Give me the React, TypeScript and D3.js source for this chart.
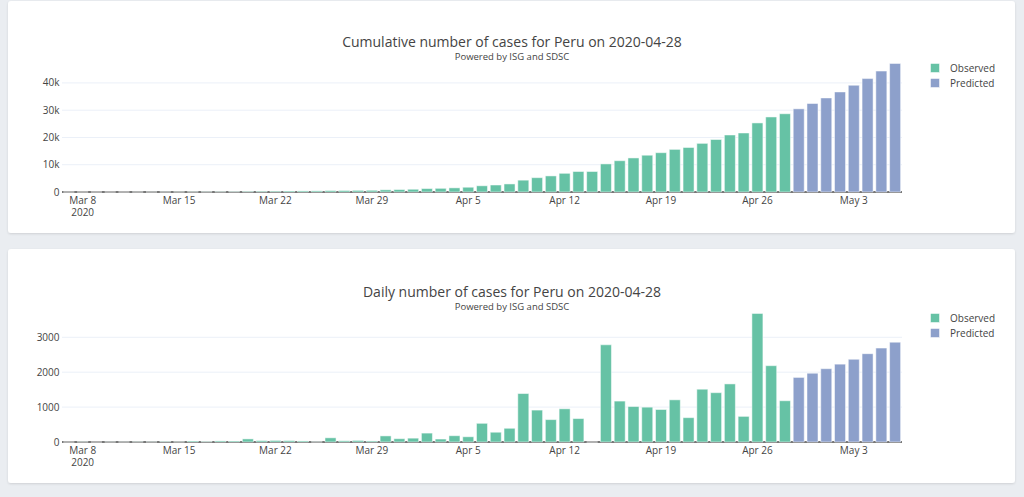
import React from 'react';
import * as d3 from 'd3';

// dates shown on the x axis (one bar per day)
const observedDates = [
  '2020-03-07', '2020-03-08', '2020-03-09', '2020-03-10', '2020-03-11', '2020-03-12', '2020-03-13',
  '2020-03-14', '2020-03-15', '2020-03-16', '2020-03-17', '2020-03-18', '2020-03-19', '2020-03-20',
  '2020-03-21', '2020-03-22', '2020-03-23', '2020-03-24', '2020-03-25', '2020-03-26', '2020-03-27',
  '2020-03-28', '2020-03-29', '2020-03-30', '2020-03-31', '2020-04-01', '2020-04-02', '2020-04-03',
  '2020-04-04', '2020-04-05', '2020-04-06', '2020-04-07', '2020-04-08', '2020-04-09', '2020-04-10',
  '2020-04-11', '2020-04-12', '2020-04-13', '2020-04-14', '2020-04-15', '2020-04-16', '2020-04-17',
  '2020-04-18', '2020-04-19', '2020-04-20', '2020-04-21', '2020-04-22', '2020-04-23', '2020-04-24',
  '2020-04-25', '2020-04-26', '2020-04-27', '2020-04-28',
];
const predictedDates = [
  '2020-04-29', '2020-04-30', '2020-05-01', '2020-05-02', '2020-05-03', '2020-05-04', '2020-05-05', '2020-05-06',
];

const observedCumulative = [
  1, 6, 6, 9, 11, 17, 22, 38, 43, 71, 86, 117, 145, 234,
  274, 318, 363, 395, 416, 521, 556, 601, 631, 806, 896, 1006, 1261, 1346,
  1521, 1746, 2281, 2561, 2954, 4342, 5256, 5897, 6848, 7519, 7519, 10303, 11475, 12491,
  13489, 14420, 15628, 16325, 17837, 19250, 20914, 21648, 25331, 27517, 28699,
];
const predictedCumulative = [30500, 32450, 34500, 36700, 39150, 41600, 44350, 47150];

const observedDaily = [
  0, 5, 0, 3, 2, 6, 5, 16, 5, 28, 15, 31, 28, 89,
  40, 45, 40, 30, 5, 120, 35, 45, 30, 175, 95, 110, 255, 85,
  180, 150, 535, 280, 393, 1388, 914, 641, 951, 671, 0, 2784, 1172, 1016,
  998, 931, 1208, 697, 1512, 1413, 1664, 734, 3683, 2186, 1182,
];
const predictedDaily = [1850, 1970, 2100, 2230, 2370, 2530, 2690, 2860];

const xTickDates = [
  '2020-03-08', '2020-03-15', '2020-03-22', '2020-03-29', '2020-04-05',
  '2020-04-12', '2020-04-19', '2020-04-26', '2020-05-03',
];
const cumulativeTicks = [0, 10000, 20000, 30000, 40000];
const dailyTicks = [0, 1000, 2000, 3000];

const seriesNames = ['Observed', 'Predicted'];
const seriesColors = ['#66c2a5', '#8da0cb'];

const FONT = '"Open Sans", verdana, arial, sans-serif';
const TEXT = '#444';

const parseDate = d3.utcParse('%Y-%m-%d');
const fmtTick = d3.utcFormat('%b %-d');

interface PanelProps {
  cardTop: number;
  cardHeight: number;
  baseY: number;
  title: string;
  observed: number[];
  predicted: number[];
  yTicks: number[];
  yFormat: (v: number) => string;
}

function BarPanel({ cardTop, cardHeight, baseY, title, observed, predicted, yTicks, yFormat }: PanelProps) {
  const obs = observedDates.map((d, i) => ({ date: parseDate(d)!, value: observed[i] }));
  const pred = predictedDates.map((d, i) => ({ date: parseDate(d)!, value: predicted[i] }));
  const all = [...obs, ...pred];

  const first = all[0].date;
  const last = all[all.length - 1].date;
  const x = d3.scaleUtc()
    .domain([d3.utcHour.offset(first, -12), d3.utcHour.offset(last, 12)])
    .range([62, 902]);
  const dayW = x(d3.utcDay.offset(first, 1)) - x(first);
  const barW = dayW * 0.8;

  const maxV = d3.max(all, (d) => d.value) ?? 1;
  const y = d3.scaleLinear().domain([0, maxV * 1.05]).range([baseY, baseY - 135]);

  const barPath = (d: { date: Date; value: number }) => {
    const cx = x(d.date);
    const x0 = cx - barW / 2;
    const x1 = cx + barW / 2;
    return `M${x0},${y(0)}H${x1}V${y(d.value)}H${x0}Z`;
  };

  const [r0, r1] = x.range();

  return (
    <g>
      <rect x={8} y={cardTop} width={1007} height={cardHeight} rx={3} fill="#fff" filter="url(#cardShadow)" />

      {/* grid */}
      {yTicks.filter((t) => t > 0).map((t) => (
        <line key={t} x1={r0} x2={r1} y1={y(t)} y2={y(t)} stroke="#EBF0F8" strokeWidth={1} />
      ))}
      {/* zero line */}
      <line x1={r0} x2={r1} y1={y(0)} y2={y(0)} stroke="#4a4a4a" strokeWidth={1.3} />

      {/* bars */}
      {obs.map((d, i) => (
        <path key={'o' + i} d={barPath(d)} fill={seriesColors[0]} stroke="#fff" strokeWidth={0.5} />
      ))}
      {pred.map((d, i) => (
        <path key={'p' + i} d={barPath(d)} fill={seriesColors[1]} stroke="#fff" strokeWidth={0.5} />
      ))}

      {/* y axis labels */}
      {yTicks.map((t) => (
        <text key={t} x={59.5} y={y(t)} dy="0.35em" textAnchor="end" fontSize={10} fill={TEXT} fontFamily={FONT}>
          {yFormat(t)}
        </text>
      ))}

      {/* x axis labels */}
      {xTickDates.map((s, i) => {
        const d = parseDate(s)!;
        return (
          <g key={s}>
            <text x={x(d)} y={baseY + 11.5} textAnchor="middle" fontSize={10} fill={TEXT} fontFamily={FONT}>
              {fmtTick(d)}
            </text>
            {i === 0 && (
              <text x={x(d)} y={baseY + 23.5} textAnchor="middle" fontSize={10} fill={TEXT} fontFamily={FONT}>
                2020
              </text>
            )}
          </g>
        );
      })}

      {/* titles */}
      <text x={512} y={baseY - 145.5} textAnchor="middle" fontSize={14} fill={TEXT} fontFamily={FONT}>
        {title}
      </text>
      <text x={512} y={baseY - 132} textAnchor="middle" fontSize={9.5} fill={TEXT} fontFamily={FONT}>
        Powered by ISG and SDSC
      </text>

      {/* legend */}
      {seriesNames.map((name, i) => {
        const cy = baseY - 124 + i * 15;
        return (
          <g key={name}>
            <rect x={930.5} y={cy - 4.5} width={9} height={9} fill={seriesColors[i]} stroke="#fff" strokeWidth={0.5} />
            <text x={950} y={cy} dy="0.35em" fontSize={10} fill={TEXT} fontFamily={FONT}>
              {name}
            </text>
          </g>
        );
      })}
    </g>
  );
}

export default function App() {
  return (
    <div style={{ position: 'absolute', left: 0, top: 0, width: 1024, height: 497, background: '#eaedf1' }}>
      <svg width={1024} height={497} viewBox="0 0 1024 497" style={{ display: 'block' }}>
        <defs>
          <filter id="cardShadow" x="-5%" y="-5%" width="110%" height="115%">
            <feDropShadow dx={0} dy={1} stdDeviation={1.2} floodColor="#000" floodOpacity={0.12} />
          </filter>
        </defs>
        <BarPanel
          cardTop={1}
          cardHeight={232}
          baseY={192}
          title="Cumulative number of cases for Peru on 2020-04-28"
          observed={observedCumulative}
          predicted={predictedCumulative}
          yTicks={cumulativeTicks}
          yFormat={d3.format('~s')}
        />
        <BarPanel
          cardTop={249}
          cardHeight={234}
          baseY={442}
          title="Daily number of cases for Peru on 2020-04-28"
          observed={observedDaily}
          predicted={predictedDaily}
          yTicks={dailyTicks}
          yFormat={d3.format('d')}
        />
      </svg>
    </div>
  );
}
